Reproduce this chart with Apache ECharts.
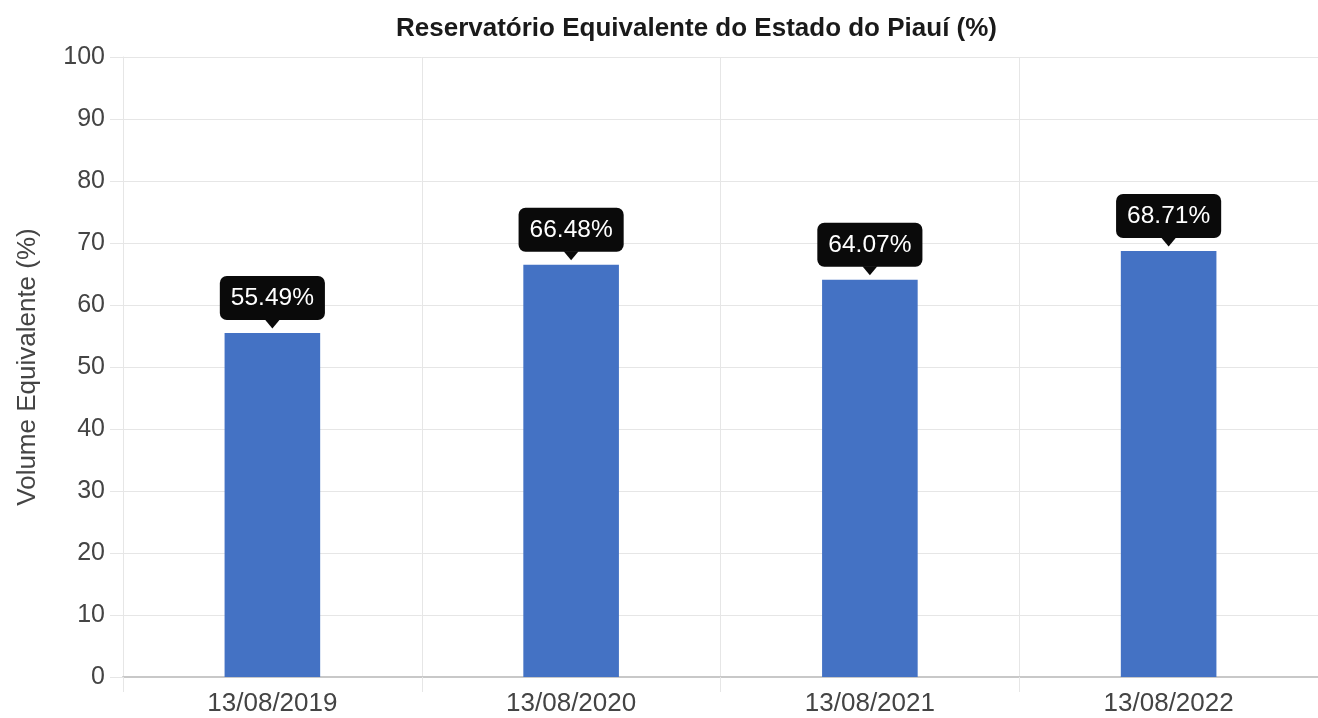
<!DOCTYPE html>
<html>
<head>
<meta charset="utf-8">
<title>Reservatório Equivalente do Estado do Piauí</title>
<script src="https://cdn.jsdelivr.net/npm/echarts@6/dist/echarts.min.js"></script>
<style>
    html, body { margin: 0; padding: 0; background: #fff; }
    #chart { width: 1318px; height: 718px; }
</style>
</head>
<body>
<div id="chart"></div>
<script>
var datas = ['13/08/2019', '13/08/2020', '13/08/2021', '13/08/2022']
var volumes = [55.49, 66.48, 64.07, 68.71]

var fonte = '"Liberation Sans", Arial, sans-serif'

var myChart = echarts.init(document.getElementById('chart'))

var option = {
    animation: false,
    title: {
        text: 'Reservatório Equivalente do Estado do Piauí (%)',
        left: 391,
        top: 11,
        textStyle: {
            fontFamily: fonte,
            fontSize: 26,
            fontWeight: 'bold',
            color: '#1a1a1a'
        }
    },
    grid: {
        left: 123,
        right: -1,
        top: 57,
        bottom: 41,
        containLabel: false
    },
    xAxis: {
        type: 'category',
        data: datas,
        axisLine: { lineStyle: { color: '#c8c8c8', width: 2 } },
        axisTick: { show: true, length: 15, lineStyle: { color: '#e6e6e6' } },
        splitLine: { show: true, lineStyle: { color: '#e6e6e6' } },
        axisLabel: {
            fontFamily: fonte,
            fontSize: 26,
            color: '#444',
            margin: 14
        }
    },
    yAxis: {
        type: 'value',
        min: 0,
        max: 100,
        interval: 10,
        name: 'Volume Equivalente (%)',
        nameLocation: 'middle',
        nameGap: 82,
        nameTextStyle: {
            fontFamily: fonte,
            fontSize: 26,
            color: '#444'
        },
        axisLine: { show: true, lineStyle: { color: '#e6e6e6' } },
        axisTick: { show: true, length: 13, lineStyle: { color: '#e6e6e6' } },
        splitLine: { lineStyle: { color: '#e6e6e6' } },
        axisLabel: {
            fontFamily: fonte,
            fontSize: 25,
            color: '#444',
            margin: 18
        }
    },
    series: [
        {
            type: 'bar',
            data: volumes,
            barWidth: '32%',
            itemStyle: { color: '#4472c4' },
            label: {
                show: true,
                position: 'top',
                distance: 13,
                formatter: function (p) { return p.value.toFixed(2) + '%' },
                fontFamily: fonte,
                fontSize: 24.5,
                color: '#fff',
                backgroundColor: '#0a0a0a',
                borderRadius: 7,
                padding: [10, 11, 9, 11]
            },
            z: 2
        },
        {
            // pontinha do balão
            type: 'scatter',
            data: volumes,
            symbol: 'triangle',
            symbolRotate: 180,
            symbolSize: [15, 9],
            symbolOffset: [0, -9],
            itemStyle: { color: '#0a0a0a', opacity: 1 },
            silent: true,
            z: 3
        }
    ]
}

myChart.setOption(option)
window.addEventListener('resize', function () {
    myChart.resize()
})
</script>
</body>
</html>
